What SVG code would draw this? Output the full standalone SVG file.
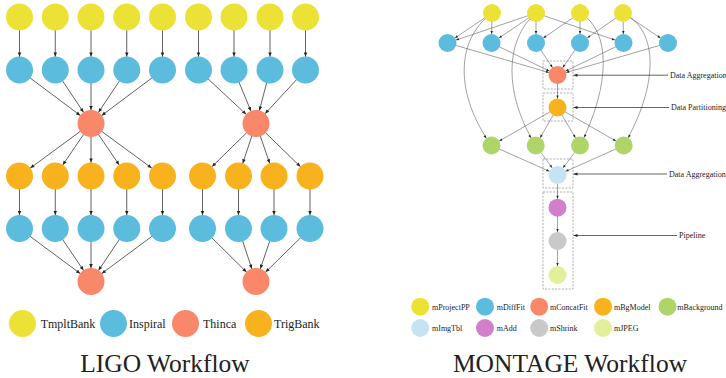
<svg xmlns="http://www.w3.org/2000/svg" width="726" height="378" viewBox="0 0 726 378">
  <style>
    .yel{fill:#ECE236}
    .blu{fill:#5CBCDD}
    .sal{fill:#F9876A}
    .org{fill:#F7B21E}
    .grn{fill:#AED46A}
    .lbl{fill:#C6E3F4}
    .pur{fill:#D27FCB}
    .gry{fill:#C9C9C9}
    .lyg{fill:#E4EF9C}
    .e{stroke:#3a3a3a;stroke-width:.8;fill:none;marker-end:url(#al)}
    .m{stroke:#555;stroke-width:.55;fill:none;marker-end:url(#am)}
    .p{stroke:#222;stroke-width:.7;fill:none;marker-end:url(#ap)}
    .box{fill:none;stroke:#8a8a8a;stroke-width:.7;stroke-dasharray:2 1.4}
    text{font-family:"Liberation Serif","Times New Roman",serif;fill:#222}
    .leg{font-size:12px}
    .sm{font-size:8px}
    .title{font-size:25.5px;text-anchor:middle}
  </style>
  <defs>
    <!-- arrowheads: tip pulled back by the node radius so lines can run centre to centre -->
    <marker id="al" markerUnits="userSpaceOnUse" markerWidth="5" markerHeight="4" refX="17.5" refY="1.75" orient="auto" overflow="visible">
      <path d="M0,0 L4,1.75 L0,3.5z" fill="#222"/>
    </marker>
    <marker id="am" markerUnits="userSpaceOnUse" markerWidth="4" markerHeight="3" refX="12" refY="1.2" orient="auto" overflow="visible">
      <path d="M0,0 L3,1.2 L0,2.4z" fill="#222"/>
    </marker>
    <marker id="ap" markerUnits="userSpaceOnUse" markerWidth="5" markerHeight="4" refX="4" refY="1.5" orient="auto" overflow="visible">
      <path d="M0,0 L4,1.5 L0,3z" fill="#222"/>
    </marker>
  </defs>
  <rect width="726" height="378" fill="#fff"/>

  <!-- ===== LIGO workflow ===== -->
  <g id="ligo-edges">
    <!-- group A -->
    <line class="e" x1="19.5" y1="17" x2="19.5" y2="70"/>
    <line class="e" x1="55.25" y1="17" x2="55.25" y2="70"/>
    <line class="e" x1="91" y1="17" x2="91" y2="70"/>
    <line class="e" x1="126.75" y1="17" x2="126.75" y2="70"/>
    <line class="e" x1="162.5" y1="17" x2="162.5" y2="70"/>
    <line class="e" x1="19.5" y1="70" x2="91" y2="123.5"/>
    <line class="e" x1="55.25" y1="70" x2="91" y2="123.5"/>
    <line class="e" x1="91" y1="70" x2="91" y2="123.5"/>
    <line class="e" x1="126.75" y1="70" x2="91" y2="123.5"/>
    <line class="e" x1="162.5" y1="70" x2="91" y2="123.5"/>
    <line class="e" x1="91" y1="123.5" x2="19.5" y2="176"/>
    <line class="e" x1="91" y1="123.5" x2="55.25" y2="176"/>
    <line class="e" x1="91" y1="123.5" x2="91" y2="176"/>
    <line class="e" x1="91" y1="123.5" x2="126.75" y2="176"/>
    <line class="e" x1="91" y1="123.5" x2="162.5" y2="176"/>
    <line class="e" x1="19.5" y1="176" x2="19.5" y2="228.5"/>
    <line class="e" x1="55.25" y1="176" x2="55.25" y2="228.5"/>
    <line class="e" x1="91" y1="176" x2="91" y2="228.5"/>
    <line class="e" x1="126.75" y1="176" x2="126.75" y2="228.5"/>
    <line class="e" x1="162.5" y1="176" x2="162.5" y2="228.5"/>
    <line class="e" x1="19.5" y1="228.5" x2="91" y2="281.5"/>
    <line class="e" x1="55.25" y1="228.5" x2="91" y2="281.5"/>
    <line class="e" x1="91" y1="228.5" x2="91" y2="281.5"/>
    <line class="e" x1="126.75" y1="228.5" x2="91" y2="281.5"/>
    <line class="e" x1="162.5" y1="228.5" x2="91" y2="281.5"/>
    <!-- group B -->
    <line class="e" x1="198.5" y1="17" x2="198.5" y2="70"/>
    <line class="e" x1="234" y1="17" x2="234" y2="70"/>
    <line class="e" x1="270" y1="17" x2="270" y2="70"/>
    <line class="e" x1="305.5" y1="17" x2="305.5" y2="70"/>
    <line class="e" x1="198.5" y1="70" x2="256" y2="123.5"/>
    <line class="e" x1="234" y1="70" x2="256" y2="123.5"/>
    <line class="e" x1="270" y1="70" x2="256" y2="123.5"/>
    <line class="e" x1="305.5" y1="70" x2="256" y2="123.5"/>
    <line class="e" x1="256" y1="123.5" x2="202.5" y2="176"/>
    <line class="e" x1="256" y1="123.5" x2="238.5" y2="176"/>
    <line class="e" x1="256" y1="123.5" x2="274" y2="176"/>
    <line class="e" x1="256" y1="123.5" x2="310" y2="176"/>
    <line class="e" x1="202.5" y1="176" x2="202.5" y2="228.5"/>
    <line class="e" x1="238.5" y1="176" x2="238.5" y2="228.5"/>
    <line class="e" x1="274" y1="176" x2="274" y2="228.5"/>
    <line class="e" x1="310" y1="176" x2="310" y2="228.5"/>
    <line class="e" x1="202.5" y1="228.5" x2="256" y2="281.5"/>
    <line class="e" x1="238.5" y1="228.5" x2="256" y2="281.5"/>
    <line class="e" x1="274" y1="228.5" x2="256" y2="281.5"/>
    <line class="e" x1="310" y1="228.5" x2="256" y2="281.5"/>
  </g>

  <!-- group A nodes -->
  <g id="ligo-a-tmplt-1"><circle class="yel" cx="19.5" cy="17" r="13.5"/></g>
  <g id="ligo-a-tmplt-2"><circle class="yel" cx="55.25" cy="17" r="13.5"/></g>
  <g id="ligo-a-tmplt-3"><circle class="yel" cx="91" cy="17" r="13.5"/></g>
  <g id="ligo-a-tmplt-4"><circle class="yel" cx="126.75" cy="17" r="13.5"/></g>
  <g id="ligo-a-tmplt-5"><circle class="yel" cx="162.5" cy="17" r="13.5"/></g>
  <g id="ligo-a-insp-1"><circle class="blu" cx="19.5" cy="70" r="13.5"/></g>
  <g id="ligo-a-insp-2"><circle class="blu" cx="55.25" cy="70" r="13.5"/></g>
  <g id="ligo-a-insp-3"><circle class="blu" cx="91" cy="70" r="13.5"/></g>
  <g id="ligo-a-insp-4"><circle class="blu" cx="126.75" cy="70" r="13.5"/></g>
  <g id="ligo-a-insp-5"><circle class="blu" cx="162.5" cy="70" r="13.5"/></g>
  <g id="ligo-a-thinca-1"><circle class="sal" cx="91" cy="123.5" r="13.5"/></g>
  <g id="ligo-a-trig-1"><circle class="org" cx="19.5" cy="176" r="13.5"/></g>
  <g id="ligo-a-trig-2"><circle class="org" cx="55.25" cy="176" r="13.5"/></g>
  <g id="ligo-a-trig-3"><circle class="org" cx="91" cy="176" r="13.5"/></g>
  <g id="ligo-a-trig-4"><circle class="org" cx="126.75" cy="176" r="13.5"/></g>
  <g id="ligo-a-trig-5"><circle class="org" cx="162.5" cy="176" r="13.5"/></g>
  <g id="ligo-a-insp2-1"><circle class="blu" cx="19.5" cy="228.5" r="13.5"/></g>
  <g id="ligo-a-insp2-2"><circle class="blu" cx="55.25" cy="228.5" r="13.5"/></g>
  <g id="ligo-a-insp2-3"><circle class="blu" cx="91" cy="228.5" r="13.5"/></g>
  <g id="ligo-a-insp2-4"><circle class="blu" cx="126.75" cy="228.5" r="13.5"/></g>
  <g id="ligo-a-insp2-5"><circle class="blu" cx="162.5" cy="228.5" r="13.5"/></g>
  <g id="ligo-a-thinca-2"><circle class="sal" cx="91" cy="281.5" r="13.5"/></g>

  <!-- group B nodes -->
  <g id="ligo-b-tmplt-1"><circle class="yel" cx="198.5" cy="17" r="13.5"/></g>
  <g id="ligo-b-tmplt-2"><circle class="yel" cx="234" cy="17" r="13.5"/></g>
  <g id="ligo-b-tmplt-3"><circle class="yel" cx="270" cy="17" r="13.5"/></g>
  <g id="ligo-b-tmplt-4"><circle class="yel" cx="305.5" cy="17" r="13.5"/></g>
  <g id="ligo-b-insp-1"><circle class="blu" cx="198.5" cy="70" r="13.5"/></g>
  <g id="ligo-b-insp-2"><circle class="blu" cx="234" cy="70" r="13.5"/></g>
  <g id="ligo-b-insp-3"><circle class="blu" cx="270" cy="70" r="13.5"/></g>
  <g id="ligo-b-insp-4"><circle class="blu" cx="305.5" cy="70" r="13.5"/></g>
  <g id="ligo-b-thinca-1"><circle class="sal" cx="256" cy="123.5" r="13.5"/></g>
  <g id="ligo-b-trig-1"><circle class="org" cx="202.5" cy="176" r="13.5"/></g>
  <g id="ligo-b-trig-2"><circle class="org" cx="238.5" cy="176" r="13.5"/></g>
  <g id="ligo-b-trig-3"><circle class="org" cx="274" cy="176" r="13.5"/></g>
  <g id="ligo-b-trig-4"><circle class="org" cx="310" cy="176" r="13.5"/></g>
  <g id="ligo-b-insp2-1"><circle class="blu" cx="202.5" cy="228.5" r="13.5"/></g>
  <g id="ligo-b-insp2-2"><circle class="blu" cx="238.5" cy="228.5" r="13.5"/></g>
  <g id="ligo-b-insp2-3"><circle class="blu" cx="274" cy="228.5" r="13.5"/></g>
  <g id="ligo-b-insp2-4"><circle class="blu" cx="310" cy="228.5" r="13.5"/></g>
  <g id="ligo-b-thinca-2"><circle class="sal" cx="256" cy="281.5" r="13.5"/></g>

  <!-- LIGO legend -->
  <g id="ligo-legend">
    <circle class="yel" cx="22.5" cy="323.5" r="13.5"/>
    <text class="leg" x="40.7" y="328">TmpltBank</text>
    <circle class="blu" cx="113.5" cy="323.5" r="13.5"/>
    <text class="leg" x="129" y="328">Inspiral</text>
    <circle class="sal" cx="185.5" cy="323.5" r="13.5"/>
    <text class="leg" x="203" y="328">Thinca</text>
    <circle class="org" cx="258.5" cy="323.5" r="13.5"/>
    <text class="leg" x="274" y="328">TrigBank</text>
  </g>
  <text class="title" x="165" y="372">LIGO Workflow</text>

  <!-- ===== MONTAGE workflow ===== -->
  <g id="montage-boxes">
    <rect class="box" x="543" y="61" width="30" height="28"/>
    <rect class="box" x="543" y="93" width="30" height="28"/>
    <rect class="box" x="543" y="159" width="30" height="29"/>
    <rect class="box" x="543" y="192" width="30" height="97"/>
  </g>

  <g id="montage-edges">
    <!-- mProjectPP -> mDiffFit -->
    <line class="m" x1="492" y1="13" x2="447.5" y2="43"/>
    <line class="m" x1="492" y1="13" x2="491.5" y2="43"/>
    <line class="m" x1="536" y1="13" x2="447.5" y2="43"/>
    <line class="m" x1="536" y1="13" x2="491.5" y2="43"/>
    <line class="m" x1="536" y1="13" x2="536" y2="43"/>
    <line class="m" x1="536" y1="13" x2="623.5" y2="43"/>
    <line class="m" x1="580" y1="13" x2="536" y2="43"/>
    <line class="m" x1="580" y1="13" x2="580" y2="43"/>
    <line class="m" x1="623" y1="13" x2="580" y2="43"/>
    <line class="m" x1="623" y1="13" x2="623.5" y2="43"/>
    <line class="m" x1="623" y1="13" x2="668" y2="43"/>
    <!-- mProjectPP -> mBackground -->
    <path class="m" d="M492,13 C455,40 455,95 491.5,145.5"/>
    <path class="m" d="M536,13 C504,40 504,95 535.7,145.5"/>
    <path class="m" d="M580,13 C611,30 611,85 580,145.5"/>
    <path class="m" d="M623,13 C659,30 659,85 623.7,145.5"/>
    <!-- mDiffFit -> mConcatFit -->
    <line class="m" x1="447.5" y1="43" x2="557.5" y2="75"/>
    <line class="m" x1="491.5" y1="43" x2="557.5" y2="75"/>
    <line class="m" x1="536" y1="43" x2="557.5" y2="75"/>
    <line class="m" x1="580" y1="43" x2="557.5" y2="75"/>
    <line class="m" x1="623.5" y1="43" x2="557.5" y2="75"/>
    <line class="m" x1="668" y1="43" x2="557.5" y2="75"/>
    <!-- mConcatFit -> mBgModel -> mBackground -->
    <line class="m" x1="557.5" y1="75" x2="557.5" y2="107.5"/>
    <line class="m" x1="557.5" y1="107.5" x2="491.5" y2="145.5"/>
    <line class="m" x1="557.5" y1="107.5" x2="535.7" y2="145.5"/>
    <line class="m" x1="557.5" y1="107.5" x2="580" y2="145.5"/>
    <line class="m" x1="557.5" y1="107.5" x2="623.7" y2="145.5"/>
    <!-- mBackground -> mImgTbl -->
    <line class="m" x1="491.5" y1="145.5" x2="557.5" y2="175"/>
    <line class="m" x1="535.7" y1="145.5" x2="557.5" y2="175"/>
    <line class="m" x1="580" y1="145.5" x2="557.5" y2="175"/>
    <line class="m" x1="623.7" y1="145.5" x2="557.5" y2="175"/>
    <!-- pipeline -->
    <line class="m" x1="557.5" y1="175" x2="557.5" y2="207.7"/>
    <line class="m" x1="557.5" y1="207.7" x2="557.5" y2="241"/>
    <line class="m" x1="557.5" y1="241" x2="557.5" y2="275"/>
  </g>

  <g id="m-proj-1"><circle class="yel" cx="492" cy="13" r="9"/></g>
  <g id="m-proj-2"><circle class="yel" cx="536" cy="13" r="9"/></g>
  <g id="m-proj-3"><circle class="yel" cx="580" cy="13" r="9"/></g>
  <g id="m-proj-4"><circle class="yel" cx="623" cy="13" r="9"/></g>
  <g id="m-diff-1"><circle class="blu" cx="447.5" cy="43" r="9"/></g>
  <g id="m-diff-2"><circle class="blu" cx="491.5" cy="43" r="9"/></g>
  <g id="m-diff-3"><circle class="blu" cx="536" cy="43" r="9"/></g>
  <g id="m-diff-4"><circle class="blu" cx="580" cy="43" r="9"/></g>
  <g id="m-diff-5"><circle class="blu" cx="623.5" cy="43" r="9"/></g>
  <g id="m-diff-6"><circle class="blu" cx="668" cy="43" r="9"/></g>
  <g id="m-concat"><circle class="sal" cx="557.5" cy="75" r="9"/></g>
  <g id="m-bgmodel"><circle class="org" cx="557.5" cy="107.5" r="9"/></g>
  <g id="m-bg-1"><circle class="grn" cx="491.5" cy="145.5" r="9"/></g>
  <g id="m-bg-2"><circle class="grn" cx="535.7" cy="145.5" r="9"/></g>
  <g id="m-bg-3"><circle class="grn" cx="580" cy="145.5" r="9"/></g>
  <g id="m-bg-4"><circle class="grn" cx="623.7" cy="145.5" r="9"/></g>
  <g id="m-imgtbl"><circle class="lbl" cx="557.5" cy="175" r="9"/></g>
  <g id="m-add"><circle class="pur" cx="557.5" cy="207.7" r="9"/></g>
  <g id="m-shrink"><circle class="gry" cx="557.5" cy="241" r="9"/></g>
  <g id="m-jpeg"><circle class="lyg" cx="557.5" cy="275" r="9"/></g>

  <!-- stage annotations -->
  <g id="m-annotations">
    <line class="p" x1="668" y1="75.2" x2="573.5" y2="75.2"/>
    <text class="sm" x="670" y="78">Data Aggregation</text>
    <line class="p" x1="669" y1="107.5" x2="573.5" y2="107.5"/>
    <text class="sm" x="671" y="110.3">Data Partitioning</text>
    <line class="p" x1="667" y1="174" x2="573.5" y2="174"/>
    <text class="sm" x="669" y="176.8">Data Aggregation</text>
    <line class="p" x1="677" y1="235.5" x2="573.5" y2="235.5"/>
    <text class="sm" x="679" y="238.3">Pipeline</text>
  </g>

  <!-- MONTAGE legend -->
  <g id="montage-legend">
    <circle class="yel" cx="420.2" cy="306.7" r="9"/>
    <text class="sm" x="432" y="310">mProjectPP</text>
    <circle class="blu" cx="485" cy="306.7" r="9"/>
    <text class="sm" x="496.7" y="310">mDiffFit</text>
    <circle class="sal" cx="539.2" cy="306.7" r="9"/>
    <text class="sm" x="550" y="310">mConcatFit</text>
    <circle class="org" cx="603" cy="306.7" r="9"/>
    <text class="sm" x="614" y="310">mBgModel</text>
    <circle class="grn" cx="667.5" cy="306.7" r="9"/>
    <text class="sm" x="677.3" y="310">mBackground</text>
    <circle class="lbl" cx="420.2" cy="328" r="9"/>
    <text class="sm" x="432" y="331">mImgTbl</text>
    <circle class="pur" cx="485" cy="328" r="9"/>
    <text class="sm" x="496.7" y="331">mAdd</text>
    <circle class="gry" cx="539.2" cy="328" r="9"/>
    <text class="sm" x="550" y="331">mShrink</text>
    <circle class="lyg" cx="603" cy="328" r="9"/>
    <text class="sm" x="614" y="331">mJPEG</text>
  </g>
  <text class="title" x="570" y="372">MONTAGE Workflow</text>
</svg>
